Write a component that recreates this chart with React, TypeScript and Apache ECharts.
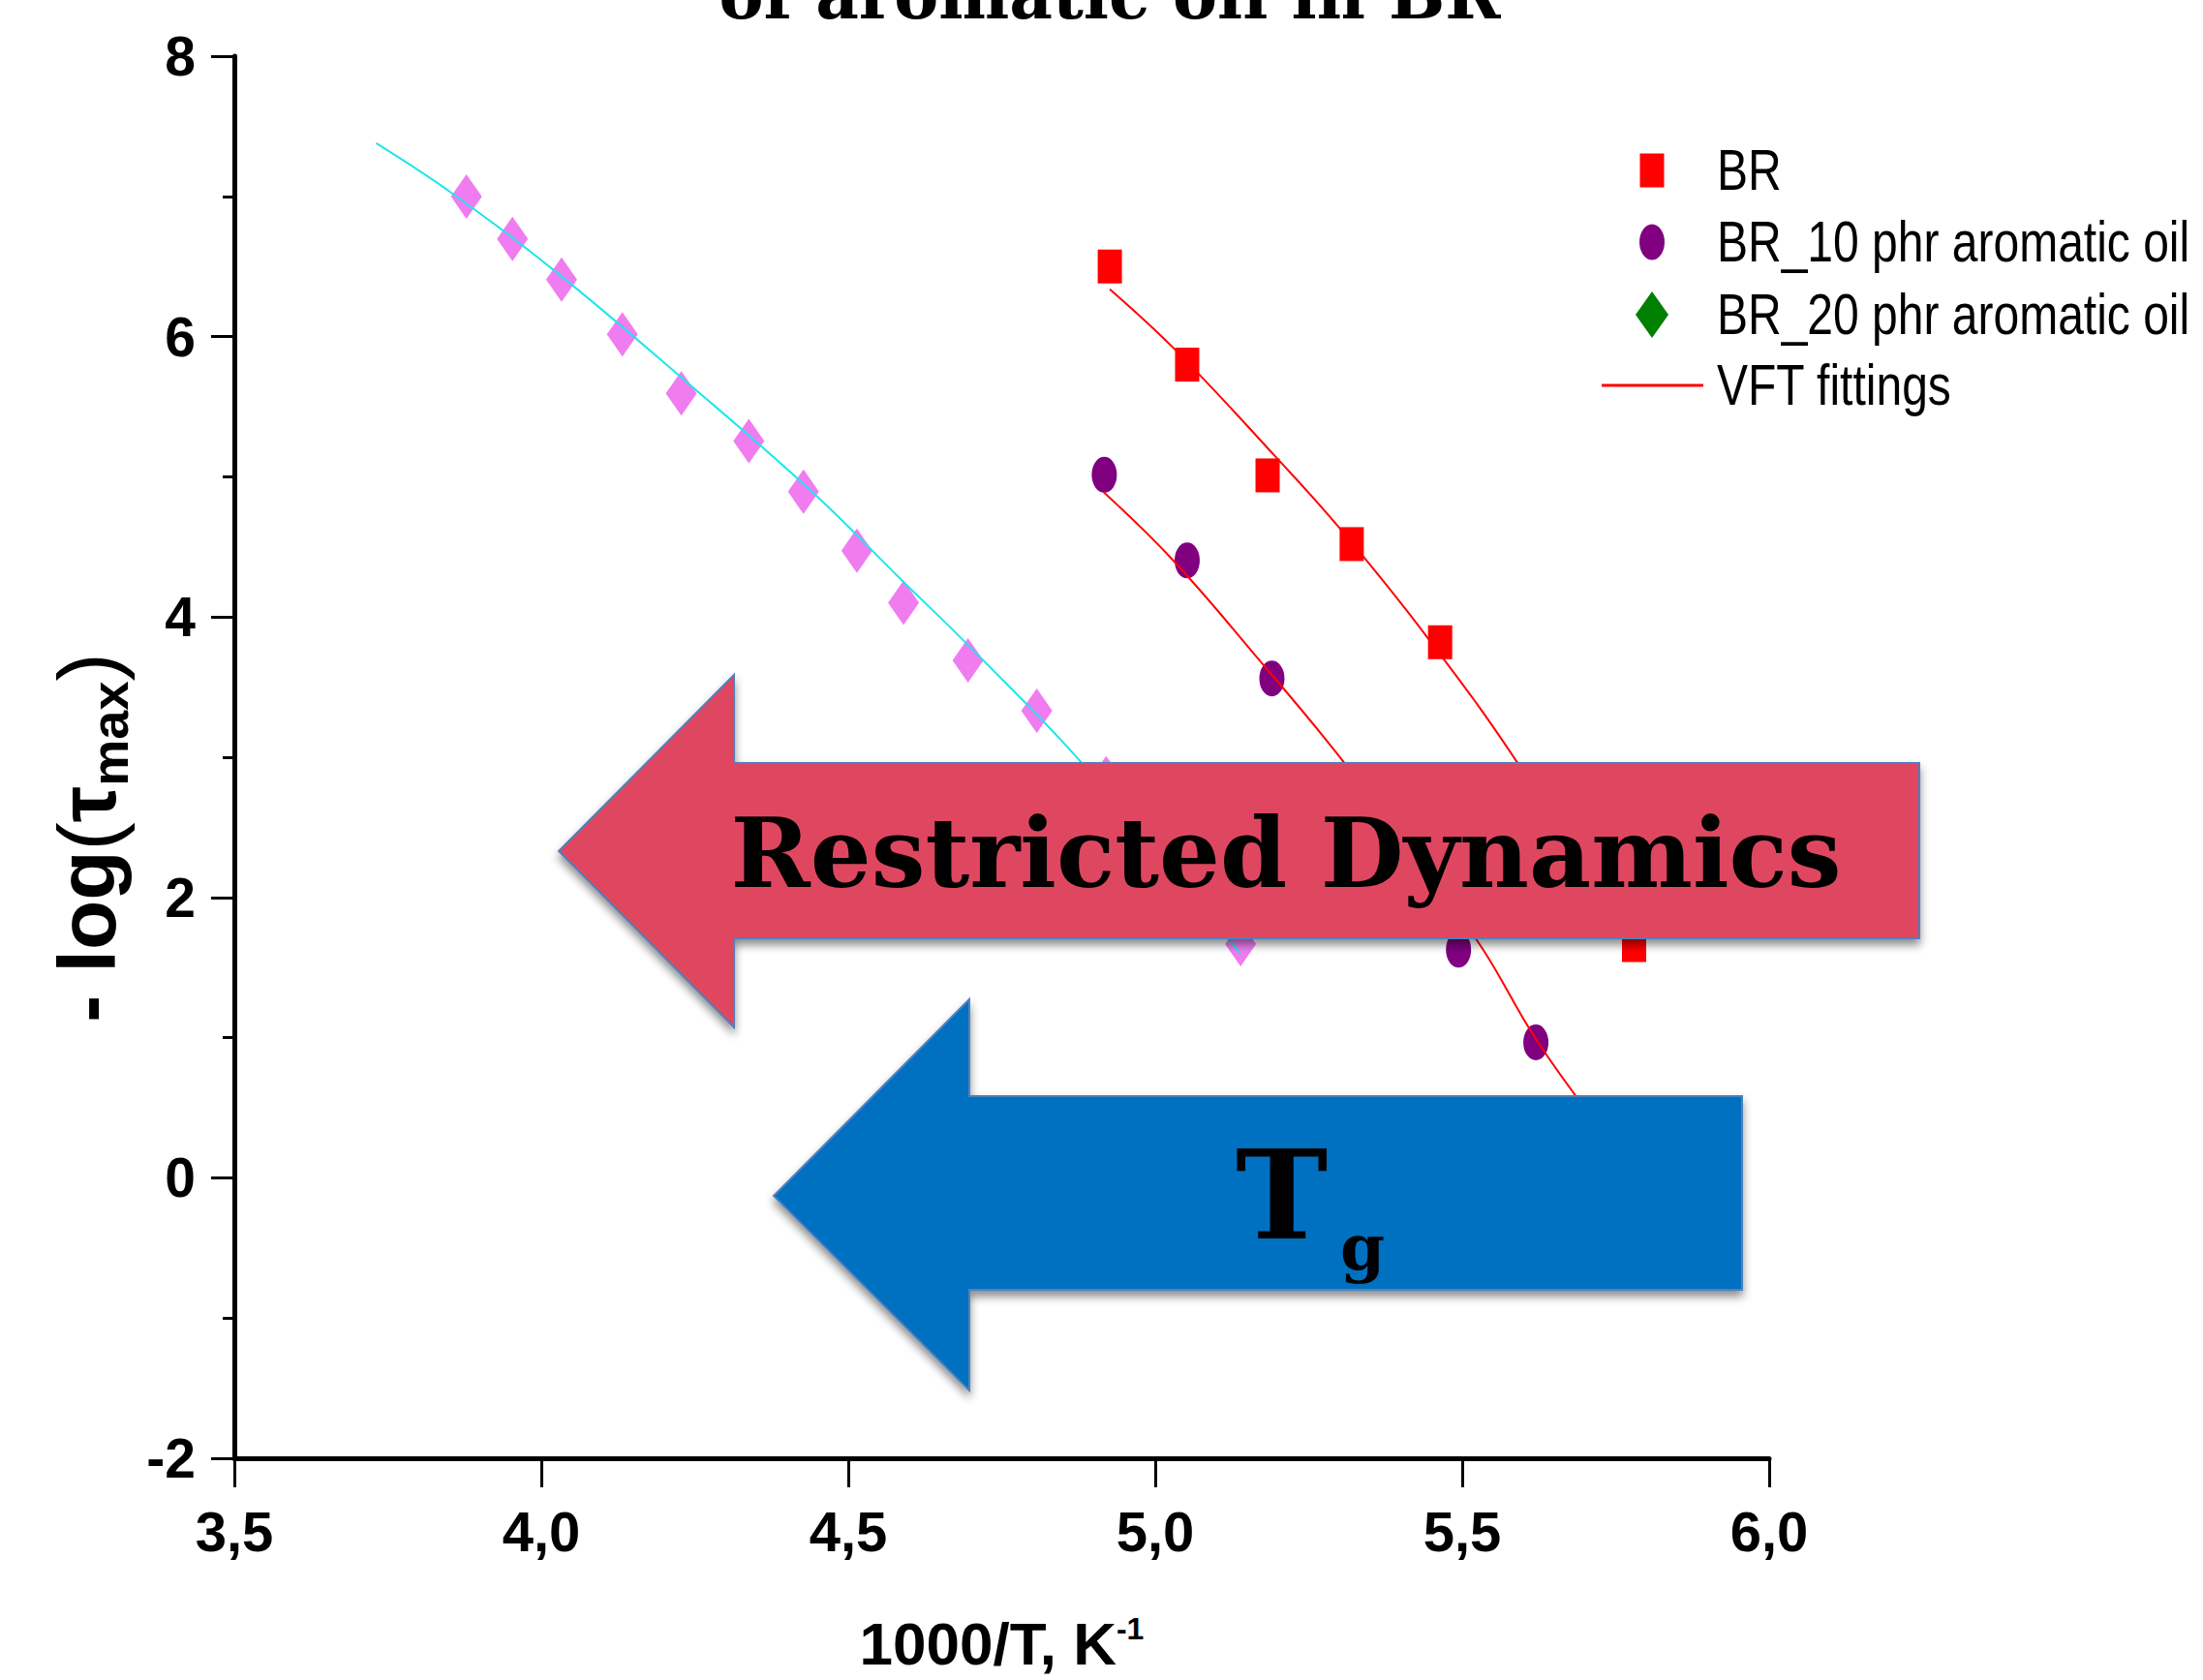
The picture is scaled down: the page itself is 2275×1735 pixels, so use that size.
import React, { useEffect, useRef } from "react";
import * as echarts from "echarts";

// ---- data ----
const brX = [4.926, 5.052, 5.183, 5.32, 5.464, 5.62, 5.78];
const brY = [6.5, 5.8, 5.01, 4.52, 3.82, 2.72, 1.66];

const br10X = [4.917, 5.052, 5.19, 5.345, 5.494, 5.62];
const br10Y = [5.014, 4.403, 3.561, 2.62, 1.627, 0.966];

const br20X = [3.878, 3.953, 4.033, 4.132, 4.228, 4.338, 4.427, 4.514, 4.59, 4.695, 4.807, 4.92, 5.03, 5.139];
const br20Y = [6.998, 6.697, 6.407, 6.016, 5.595, 5.255, 4.894, 4.473, 4.102, 3.691, 3.331, 2.85, 2.3, 1.667];

const fitBrX = [4.926, 5.034, 5.196, 5.302, 5.443, 5.591, 5.77];
const fitBrY = [6.338, 5.9, 5.143, 4.625, 3.856, 2.954, 1.7];

const fitBr10X = [4.916, 5.027, 5.161, 5.309, 5.522, 5.62, 5.72];
const fitBr10Y = [4.89, 4.414, 3.737, 2.954, 1.707, 0.99, 0.38];

const fitBr20X = [3.731, 3.856, 4.024, 4.233, 4.442, 4.59, 4.695, 4.88, 5.119, 5.139];
const fitBr20Y = [7.379, 7.018, 6.461, 5.69, 4.889, 4.25, 3.8, 2.961, 1.707, 1.6];

const xRange = [3.5, 6.0];
const yRange = [-2, 8];

const seriesNames = ["BR", "BR_10 phr aromatic oil", "BR_20 phr aromatic oil", "VFT fittings"];
const titleText = "of aromatic oil in BR";
const arrowText1 = "Restricted Dynamics";

const zip = (xs: number[], ys: number[]) => xs.map((x, i) => [x, ys[i]]);

const SANS = '"Liberation Sans", Arial, sans-serif';
const SERIF = '"DejaVu Serif", "Liberation Serif", serif';

const ELLIPSE = "path://M13,0A13,18.5,0,1,1,13,37A13,18.5,0,1,1,13,0Z";

export default function App() {
  const ref = useRef<HTMLDivElement>(null);
  useEffect(() => {
    if (!ref.current) return;
    const chart = echarts.init(ref.current, null, { renderer: "svg" });

    const legendX = 1706;
    const textX = 1773;
    const rows = [176, 250, 325, 398];
    const legendLabel = (i: number) => ({
      type: "text", z: 60, x: textX, y: rows[i], scaleX: 0.8,
      style: { text: seriesNames[i], font: `60px ${SANS}`, fill: "#000", align: "left", verticalAlign: "middle" },
    });

    const option: any = {
      animation: false,
      backgroundColor: "#fff",
      grid: { left: 242, right: 448, top: 58, bottom: 229, containLabel: false },
      xAxis: {
        type: "value",
        min: xRange[0],
        max: xRange[1],
        interval: 0.5,
        splitLine: { show: false },
        axisLine: { onZero: false, lineStyle: { color: "#000", width: 5 } },
        axisTick: { length: 30, lineStyle: { color: "#000", width: 3 } },
        axisLabel: {
          margin: 46,
          fontFamily: SANS,
          fontWeight: "bold",
          fontSize: 58,
          color: "#000",
          formatter: (v: number) => v.toFixed(1).replace(".", ","),
        },
        name: "{a|1000/T, K}{s|-1}",
        nameLocation: "middle",
        nameGap: 160,
        nameTextStyle: {
          color: "#000",
          rich: {
            a: { fontFamily: SANS, fontWeight: "bold", fontSize: 62, lineHeight: 62, padding: [14, 0, 0, 0], verticalAlign: "bottom", color: "#000" },
            s: { fontFamily: SANS, fontWeight: "bold", fontSize: 32, lineHeight: 32, verticalAlign: "top", color: "#000" },
          },
        },
      },
      yAxis: {
        type: "value",
        min: yRange[0],
        max: yRange[1],
        interval: 2,
        splitLine: { show: false },
        axisLine: { lineStyle: { color: "#000", width: 5 } },
        axisTick: { length: 24, lineStyle: { color: "#000", width: 3 } },
        minorTick: { show: true, splitNumber: 2, length: 12, lineStyle: { color: "#000", width: 3 } },
        axisLabel: {
          margin: 40,
          fontFamily: SANS,
          fontWeight: "bold",
          fontSize: 57,
          color: "#000",
        },
        name: "{a|- log}{b|(}{c|τ}{d|max}{b|)}",
        nameLocation: "middle",
        nameRotate: 90,
        nameGap: 97,
        nameTextStyle: {
          color: "#000",
          padding: [0, 166, 0, 0],
          rich: {
            a: { fontFamily: SANS, fontWeight: "bold", fontSize: 84, lineHeight: 100, color: "#000" },
            b: { fontFamily: SANS, fontWeight: "normal", fontSize: 88, lineHeight: 100, color: "#000" },
            c: { fontFamily: SANS, fontWeight: "bold", fontSize: 84, lineHeight: 100, color: "#000" },
            d: { fontFamily: SANS, fontWeight: "bold", fontSize: 54, lineHeight: 76, verticalAlign: "bottom", color: "#000" },
          },
        },
      },
      series: [
        {
          name: seriesNames[0], type: "scatter", symbol: "rect", symbolSize: [25, 35],
          itemStyle: { color: "#ff0000", opacity: 1 }, data: zip(brX, brY), z: 2,
        },
        {
          name: seriesNames[1], type: "scatter", symbol: ELLIPSE, symbolSize: [26, 37],
          itemStyle: { color: "#800080", opacity: 1 }, data: zip(br10X, br10Y), z: 2,
        },
        {
          name: seriesNames[2], type: "scatter", symbol: "diamond", symbolSize: [32, 46],
          itemStyle: { color: "#f07cf0", opacity: 1 }, data: zip(br20X, br20Y), z: 2,
        },
        {
          name: seriesNames[3], type: "line", symbol: "none", smooth: 0.4,
          lineStyle: { color: "#ff0000", width: 2 }, itemStyle: { color: "#ff0000" },
          data: zip(fitBrX, fitBrY), z: 3,
        },
        {
          name: seriesNames[3], type: "line", symbol: "none", smooth: 0.4,
          lineStyle: { color: "#ff0000", width: 2 }, itemStyle: { color: "#ff0000" },
          data: zip(fitBr10X, fitBr10Y), z: 3,
        },
        {
          name: "VFT BR_20", type: "line", symbol: "none", smooth: 0.4,
          lineStyle: { color: "#1ee6ec", width: 2 }, itemStyle: { color: "#1ee6ec" },
          data: zip(fitBr20X, fitBr20Y), z: 3,
        },
      ],
      graphic: [
        // legend
        {
          type: "rect", z: 60,
          shape: { x: legendX - 12.5, y: rows[0] - 17.5, width: 25, height: 35 },
          style: { fill: "#ff0000" },
        },
        {
          type: "ellipse", z: 60,
          shape: { cx: legendX, cy: rows[1], rx: 13, ry: 18.5 },
          style: { fill: "#800080" },
        },
        {
          type: "polygon", z: 60,
          shape: { points: [[legendX, rows[2] - 24], [legendX + 17, rows[2]], [legendX, rows[2] + 24], [legendX - 17, rows[2]]] },
          style: { fill: "#008000" },
        },
        {
          type: "line", z: 60,
          shape: { x1: 1654, y1: rows[3], x2: 1759, y2: rows[3] },
          style: { stroke: "#ff0000", lineWidth: 3 },
        },
        legendLabel(0),
        legendLabel(1),
        legendLabel(2),
        legendLabel(3),
        // title (partly above the page, as in the reference)
        {
          type: "text", z: 100, x: 1146, y: -6,
          style: { text: titleText, font: `bold 69px ${SERIF}`, fill: "#000", align: "center", verticalAlign: "middle" },
        },
        // arrows
        {
          type: "polygon", z: 100,
          shape: { points: [[577, 879], [758, 697], [758, 788], [1982, 788], [1982, 969], [758, 969], [758, 1061]] },
          style: { fill: "#df4660", stroke: "#4f81bd", lineWidth: 2, shadowBlur: 10, shadowOffsetY: 6, shadowColor: "rgba(0,0,0,0.45)" },
        },
        {
          type: "text", z: 101, x: 1328, y: 881,
          style: { text: arrowText1, font: `bold 99px ${SERIF}`, fill: "#000", align: "center", verticalAlign: "middle" },
        },
        {
          type: "polygon", z: 100,
          shape: { points: [[799, 1235], [1001, 1032], [1001, 1132], [1799, 1132], [1799, 1332], [1001, 1332], [1001, 1436]] },
          style: { fill: "#0070c0", stroke: "#4f81bd", lineWidth: 2, shadowBlur: 10, shadowOffsetY: 6, shadowColor: "rgba(0,0,0,0.45)" },
        },
        {
          type: "text", z: 101, x: 1276, y: 1234,
          style: { text: "T", font: `bold 128px ${SERIF}`, fill: "#000", align: "left", verticalAlign: "middle" },
        },
        {
          type: "text", z: 101, x: 1384, y: 1288,
          style: { text: "g", font: `bold 66px ${SERIF}`, fill: "#000", align: "left", verticalAlign: "middle" },
        },
      ],
    };
    chart.setOption(option);
    return () => chart.dispose();
  }, []);
  return (
    <div
      ref={ref}
      style={{ position: "fixed", left: 0, top: 0, width: 2275, height: 1735, background: "#fff" }}
    />
  );
}
